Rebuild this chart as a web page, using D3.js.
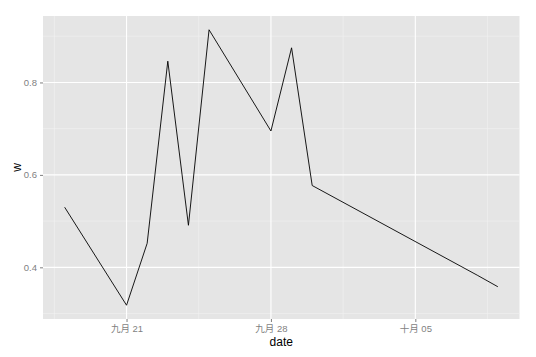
<!DOCTYPE html>
<html>
<head>
<meta charset="utf-8">
<script src="https://cdn.jsdelivr.net/npm/d3@7"></script>
<style>
  body { margin: 0; background: #fff; }
  svg { display: block; font-family: "Liberation Sans", Arial, sans-serif; }
</style>
</head>
<body>
<svg id="chart" width="536" height="357"></svg>
<script>
const dates = ["2013-09-18","2013-09-21","2013-09-22","2013-09-23","2013-09-24","2013-09-25","2013-09-28","2013-09-29","2013-09-30","2013-10-08","2013-10-09"];
const wValues = [0.530, 0.318, 0.452, 0.846, 0.491, 0.914, 0.695, 0.875, 0.577, 0.383, 0.358];
const xTickDates = ["2013-09-21","2013-09-28","2013-10-05"];
const xMinorDates = ["2013-09-17T12:00","2013-09-24T12:00","2013-10-01T12:00","2013-10-08T12:00"];
const yTicks = [0.4, 0.6, 0.8];
const yMinor = [0.3, 0.5, 0.7, 0.9];
const monthNames = ["一月","二月","三月","四月","五月","六月","七月","八月","九月","十月","十一月","十二月"];
const xTitle = "date";
const yTitle = "w";

const parse = d3.timeParse("%Y-%m-%d");
const parseT = d3.timeParse("%Y-%m-%dT%H:%M");
const data = dates.map((d, i) => ({ date: parse(d), w: wValues[i] }));

const svg = d3.select("#chart");
const panel = { left: 43, top: 16, right: 519.5, bottom: 319 };

const xExt = d3.extent(data, d => d.date);
const xPad = (xExt[1] - xExt[0]) * 0.05;
const x = d3.scaleTime()
  .domain([new Date(+xExt[0] - xPad), new Date(+xExt[1] + xPad)])
  .range([panel.left, panel.right]);

const yExt = d3.extent(wValues);
const yPad = (yExt[1] - yExt[0]) * 0.05;
const y = d3.scaleLinear()
  .domain([yExt[0] - yPad, yExt[1] + yPad])
  .range([panel.bottom, panel.top]);

// panel background
svg.append("rect")
  .attr("x", panel.left).attr("y", panel.top)
  .attr("width", panel.right - panel.left).attr("height", panel.bottom - panel.top)
  .attr("fill", "#E5E5E5");

const grid = svg.append("g");
// minor grid
grid.selectAll(".ymin").data(yMinor).enter().append("line")
  .attr("x1", panel.left).attr("x2", panel.right)
  .attr("y1", d => y(d)).attr("y2", d => y(d))
  .attr("stroke", "#F2F2F2").attr("stroke-width", 0.6);
grid.selectAll(".xmin").data(xMinorDates.map(parseT)).enter().append("line")
  .attr("y1", panel.top).attr("y2", panel.bottom)
  .attr("x1", d => x(d)).attr("x2", d => x(d))
  .attr("stroke", "#F2F2F2").attr("stroke-width", 0.6);
// major grid
grid.selectAll(".ymaj").data(yTicks).enter().append("line")
  .attr("x1", panel.left).attr("x2", panel.right)
  .attr("y1", d => y(d)).attr("y2", d => y(d))
  .attr("stroke", "#FFFFFF").attr("stroke-width", 1.1);
grid.selectAll(".xmaj").data(xTickDates.map(parse)).enter().append("line")
  .attr("y1", panel.top).attr("y2", panel.bottom)
  .attr("x1", d => x(d)).attr("x2", d => x(d))
  .attr("stroke", "#FFFFFF").attr("stroke-width", 1.1);

// line
const line = d3.line().x(d => x(d.date)).y(d => y(d.w));
svg.append("path").datum(data)
  .attr("d", line)
  .attr("fill", "none")
  .attr("stroke", "#000")
  .attr("stroke-width", 0.9);

// axes
const fmt = d => monthNames[d.getMonth()] + " " + d3.timeFormat("%d")(d);
const xAxis = d3.axisBottom(x).tickValues(xTickDates.map(parse)).tickFormat(fmt).tickSize(3).tickPadding(3);
const yAxis = d3.axisLeft(y).tickValues(yTicks).tickFormat(d3.format(".1f")).tickSize(3).tickPadding(3);

const gx = svg.append("g").attr("transform", `translate(0,${panel.bottom})`).call(xAxis);
const gy = svg.append("g").attr("transform", `translate(${panel.left},0)`).call(yAxis);
[gx, gy].forEach(g => {
  g.select(".domain").remove();
  g.selectAll(".tick line").attr("stroke", "#7F7F7F");
  g.selectAll(".tick text").attr("fill", "#7F7F7F").attr("font-size", "9.5px")
    .attr("font-family", "'Liberation Sans', 'Noto Sans CJK SC', sans-serif");
});

svg.append("text")
  .attr("x", (panel.left + panel.right) / 2).attr("y", 346)
  .attr("text-anchor", "middle").attr("font-size", "12px").attr("fill", "#000")
  .text(xTitle);
svg.append("text")
  .attr("transform", `translate(21,${(panel.top + panel.bottom) / 2}) rotate(-90)`)
  .attr("text-anchor", "middle").attr("font-size", "12px").attr("fill", "#000")
  .text(yTitle);
</script>
</body>
</html>
